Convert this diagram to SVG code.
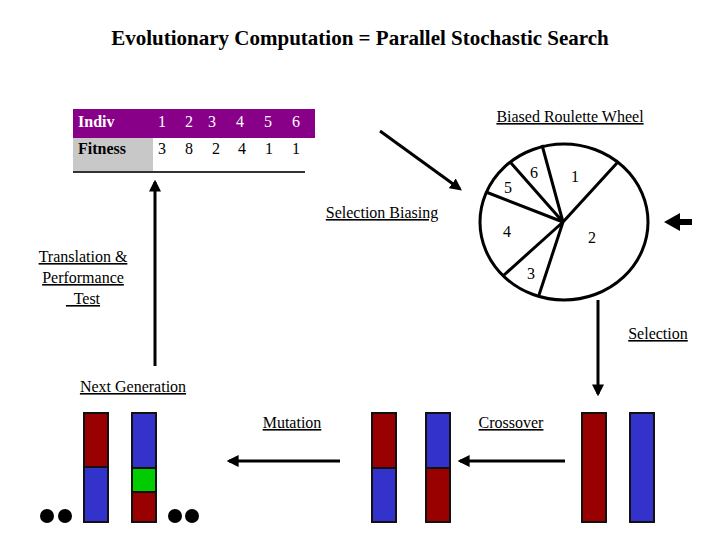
<svg xmlns="http://www.w3.org/2000/svg" width="720" height="540" viewBox="0 0 720 540" font-family="'Liberation Serif', 'DejaVu Serif', serif">
<defs>
<style>
text{font-family:'Liberation Serif','DejaVu Serif',serif;font-size:16px;fill:#000}
.u{text-decoration:underline}
.ln{stroke:#000;stroke-width:3;fill:none}
.bar{stroke:#111;stroke-width:2}
.r{fill:#990000}.b{fill:#3333cc}.g{fill:#00cc00}
</style>
<marker id="ah" viewBox="0 0 10 10" refX="8" refY="5" markerWidth="4" markerHeight="4" orient="auto-start-reverse"><path d="M0,0L10,5L0,10z" fill="#000"/></marker>
</defs>
<rect width="720" height="540" fill="#fff"/>
<text x="360" y="45" text-anchor="middle" font-weight="bold" style="font-size:21px">Evolutionary Computation = Parallel Stochastic Search</text>
<g id="table">
<rect x="73" y="109" width="242" height="29" fill="#880088"/>
<rect x="73" y="138" width="80" height="34" fill="#c8c8c8"/>
<line x1="73" y1="172" x2="305" y2="172" stroke="#333" stroke-width="2"/>
<text x="78" y="127" font-weight="bold" style="fill:#fff">Indiv</text>
<text x="158" y="127" style="fill:#fff">1</text><text x="185" y="127" style="fill:#fff">2</text><text x="208" y="127" style="fill:#fff">3</text><text x="236" y="127" style="fill:#fff">4</text><text x="264" y="127" style="fill:#fff">5</text><text x="292" y="127" style="fill:#fff">6</text>
<text x="78" y="154" font-weight="bold">Fitness</text>
<text x="158" y="154">3</text><text x="185" y="154">8</text><text x="212" y="154">2</text><text x="238" y="154">4</text><text x="265" y="154">1</text><text x="292" y="154">1</text>
</g>
<g id="wheel">
<text x="570" y="122" text-anchor="middle" class="u">Biased Roulette Wheel</text>
<ellipse cx="564" cy="222" rx="84" ry="78" class="ln"/>
<path d="M563,222L542,145M563,222L617,163M563,222L511,163M563,222L486,192M563,222L504,275M563,222L539,295" class="ln"/>
<text x="530" y="178">6</text><text x="571" y="182">1</text><text x="504" y="193">5</text><text x="503" y="237">4</text><text x="588" y="243">2</text><text x="527" y="279">3</text>
</g>
<g id="labels">
<text x="382" y="218" text-anchor="middle" class="u">Selection Biasing</text>
<text x="83" y="262" text-anchor="middle" class="u">Translation &amp;</text>
<text x="83" y="283" text-anchor="middle" class="u">Performance</text>
<text x="83" y="304" text-anchor="middle" class="u" xml:space="preserve">  Test</text>
<text x="658" y="339" text-anchor="middle" class="u">Selection</text>
<text x="133" y="392" text-anchor="middle" class="u">Next Generation</text>
<text x="292" y="428" text-anchor="middle" class="u">Mutation</text>
<text x="511" y="428" text-anchor="middle" class="u">Crossover</text>
</g>
<g id="connectors">
<line x1="380" y1="131" x2="460" y2="189" class="ln" marker-end="url(#ah)"/>
<path d="M692,219L680,219L680,213L664,222L680,231L680,225L692,225z" fill="#000"/>
<line x1="598" y1="300" x2="598" y2="394" class="ln" stroke-width="2" marker-end="url(#ah)"/>
<line x1="155" y1="366" x2="155" y2="182" class="ln" marker-end="url(#ah)"/>
<line x1="340" y1="461" x2="229" y2="461" class="ln" marker-end="url(#ah)"/>
<line x1="565" y1="461" x2="460" y2="461" class="ln" stroke-width="2" marker-end="url(#ah)"/>
</g>
<g id="nextgen">
<rect x="84" y="413" width="24" height="54" class="bar r"/><rect x="84" y="467" width="24" height="55" class="bar b"/>
<rect x="132" y="413" width="24" height="55" class="bar b"/><rect x="132" y="468" width="24" height="24" class="bar g"/><rect x="132" y="492" width="24" height="30" class="bar r"/>
<circle cx="47" cy="516" r="7"/><circle cx="65" cy="516" r="7"/><circle cx="175" cy="516" r="7"/><circle cx="192" cy="516" r="7"/>
</g>
<g id="crossed">
<rect x="372" y="413" width="24" height="55" class="bar r"/><rect x="372" y="468" width="24" height="54" class="bar b"/>
<rect x="426" y="413" width="24" height="55" class="bar b"/><rect x="426" y="468" width="24" height="54" class="bar r"/>
</g>
<g id="selected">
<rect x="582" y="413" width="24" height="109" class="bar r"/>
<rect x="630" y="413" width="24" height="109" class="bar b"/>
</g>
</svg>
